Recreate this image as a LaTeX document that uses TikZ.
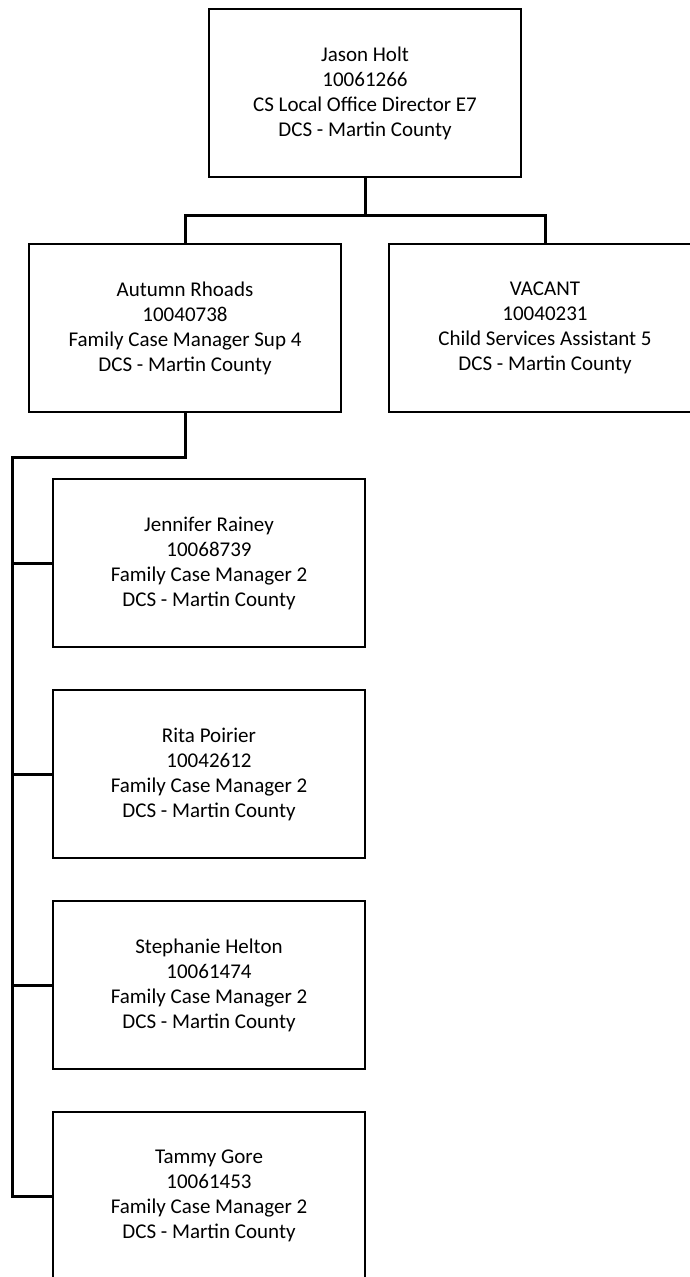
\documentclass[tikz,border=0pt]{standalone}
\usepackage{fontspec}
\setmainfont{Carlito}
\begin{document}
\begin{tikzpicture}[x=1pt,y=-1pt]
	\tikzstyle{poste}=[draw,line width=2pt,minimum width=312pt,minimum height=168pt,align=center,inner sep=0pt,font=\fontsize{21}{25}\selectfont]
	\tikzstyle{lien}=[line width=3pt]
	\def\ColonneEquipe{209}
	\def\PasEquipe{211}
	\def\NiveauEquipe{563}
	\useasboundingbox (0,0) rectangle (690,1277);
	\clip (0,0) rectangle (690,1277);
	% direction
	\node[poste] (holt) at (365,93) {Jason Holt\\10061266\\CS Local Office Director E7\\DCS - Martin County};
	\node[poste] (rhoads) at (185,328) {Autumn Rhoads\\10040738\\Family Case Manager Sup 4\\DCS - Martin County};
	\node[poste] (vacant) at (545,328) {VACANT\\10040231\\Child Services Assistant 5\\DCS - Martin County};
	% equipe
	\node[poste] (rainey) at (\ColonneEquipe,{\NiveauEquipe+0*\PasEquipe}) {Jennifer Rainey\\10068739\\Family Case Manager 2\\DCS - Martin County};
	\node[poste] (poirier) at (\ColonneEquipe,{\NiveauEquipe+1*\PasEquipe}) {Rita Poirier\\10042612\\Family Case Manager 2\\DCS - Martin County};
	\node[poste] (helton) at (\ColonneEquipe,{\NiveauEquipe+2*\PasEquipe}) {Stephanie Helton\\10061474\\Family Case Manager 2\\DCS - Martin County};
	\node[poste] (gore) at (\ColonneEquipe,{\NiveauEquipe+3*\PasEquipe}) {Tammy Gore\\10061453\\Family Case Manager 2\\DCS - Martin County};
	% liens
	\coordinate (barre) at (365,215);
	\draw[lien] (holt.south) -- (barre) -| (rhoads.north);
	\draw[lien] (barre) -| (vacant.north);
	\coordinate (epine) at (12,457);
	\draw[lien] (rhoads.south) |- (epine) -- (epine |- gore.west) -- (gore.west);
	\draw[lien] (epine |- rainey.west) -- (rainey.west);
	\draw[lien] (epine |- poirier.west) -- (poirier.west);
	\draw[lien] (epine |- helton.west) -- (helton.west);
\end{tikzpicture}
\end{document}
